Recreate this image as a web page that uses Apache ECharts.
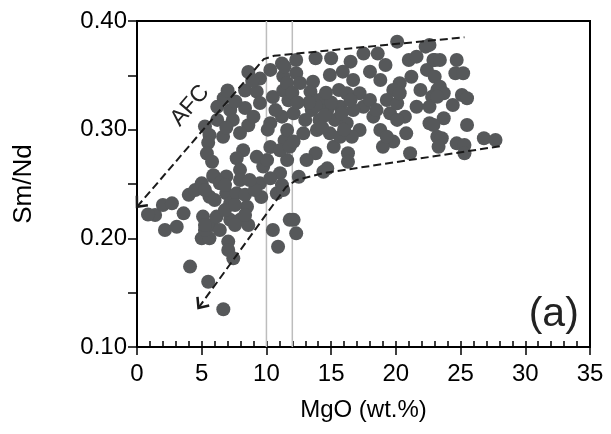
<!DOCTYPE html>
<html><head><meta charset="utf-8">
<script src="https://cdn.jsdelivr.net/npm/echarts@6/dist/echarts.min.js"></script>
<style>html,body{margin:0;padding:0;background:#fff}#c{width:611px;height:434px}</style>
</head><body><div id="c"></div>
<script>
// ---- data ----
const xTicks = [0, 5, 10, 15, 20, 25, 30, 35];
const yTicks = [0.10, 0.20, 0.30, 0.40];
const xLabel = 'MgO (wt.%)';
const yLabel = 'Sm/Nd';
const samples = [
  // x 5-12, upper
  [8.6,0.353],[9.5,0.347],[11.2,0.361],[11.3,0.349],[8.35,0.336],[9.25,0.335],[10.5,0.330],[11.3,0.336],
  [6.7,0.329],[6.2,0.321],[7.2,0.318],[8.35,0.320],[9.5,0.3245],[8.6,0.304],[7.4,0.309],[6.2,0.309],
  [5.25,0.303],[5.6,0.295],[5.5,0.288],[6.65,0.2935],[7.96,0.297],[10.3,0.306],[11.2,0.312],[11.4,0.290],
  [10.3,0.284],[8.2,0.281],[7.7,0.2737],[5.4,0.278],[5.8,0.2705],[9.25,0.275],[9.75,0.266],[7.96,0.263],
  [5.9,0.258],[6.9,0.257],[11.05,0.260],[11.6,0.272],[8.9,0.345],
  [10.3,0.355],[10.7,0.318],[11.7,0.327],[10.1,0.30],[11.05,0.281],[10.05,0.272],[11.2,0.249],
  [7.0,0.336],[7.6,0.326],[9.0,0.312],[6.9,0.302],
  // x 0-12, lower
  [1.4,0.2215],[2.0,0.2307],[2.7,0.2322],[2.16,0.2077],[3.07,0.2107],[3.6,0.223],[4.0,0.240],[4.5,0.2445],
  [5.0,0.2506],[5.9,0.2567],[5.6,0.2383],[5.1,0.220],[5.0,0.200],[5.6,0.200],[5.25,0.2077],[5.8,0.2123],
  [6.15,0.220],[6.9,0.2414],[7.2,0.2322],[7.2,0.217],[7.96,0.2537],[7.7,0.2414],[8.5,0.229],[7.96,0.217],
  [8.6,0.2123],[7.05,0.197],[7.05,0.1893],[7.44,0.1816],[4.1,0.174],[5.5,0.160],[6.67,0.1347],[9.5,0.2506],
  [10.3,0.2552],[10.8,0.2414],[10.5,0.2077],[10.9,0.1923],[11.8,0.217],[9.6,0.238],[6.4,0.2506],
  [5.25,0.2445],[6.0,0.2353],[6.8,0.226],[7.57,0.2307],[8.35,0.240],[9.1,0.2445],[8.7,0.2537],[6.8,0.249],
  [5.25,0.2123],[7.57,0.2123],[6.4,0.2077],[8.35,0.2215],[0.85,0.222],
  [12.1,0.217],[12.3,0.2046],[12.5,0.2567],[14.4,0.2613],[11.3,0.2445],
  // x 11-24
  [20.1,0.381],[22.3,0.3764],[12.3,0.3641],[13.8,0.3657],[15.0,0.3657],[16.5,0.3626],[17.5,0.370],[18.6,0.370],
  [19.2,0.3595],[18.0,0.3534],[18.8,0.3457],[21.0,0.3641],[21.6,0.3672],[22.9,0.3641],[21.2,0.3487],[21.9,0.3365],
  [20.3,0.3427],[19.8,0.3365],[22.8,0.3303],[21.6,0.3211],[20.7,0.312],[22.6,0.3059],[23.2,0.2935],[21.1,0.2783],
  [20.8,0.2966],[19.55,0.315],[19.8,0.289],[19.0,0.2843],[18.8,0.2997],[18.26,0.312],[17.2,0.3335],[17.5,0.3211],
  [16.7,0.318],[17.2,0.2997],[16.3,0.2783],[16.3,0.2705],[15.2,0.2843],[14.7,0.2644],[13.8,0.2783],[13.1,0.272],
  [11.8,0.2843],[11.6,0.2997],[12.1,0.315],[11.6,0.3427],[12.3,0.352],[11.4,0.358],[13.6,0.3441],
  [13.4,0.335],[14.9,0.3503],[15.9,0.3534],[15.6,0.3365],[16.2,0.3335],[14.1,0.3273],[13.5,0.318],[14.7,0.318],
  [15.7,0.321],[14.1,0.309],[15.3,0.309],[16.2,0.306],[13.0,0.309],[12.85,0.2966],[13.9,0.2997],[14.9,0.2966],
  [15.7,0.2935],[12.1,0.289],[16.6,0.2935],[18.0,0.3273],[18.5,0.318],[19.3,0.3273],[20.1,0.3242],[20.3,0.3335],
  [19.3,0.2935],[20.1,0.309],[22.4,0.355],[23.2,0.3365],[22.6,0.3211],[16.7,0.3457],
  [13.8,0.322],[14.5,0.313],[15.0,0.325],[15.8,0.315],[14.3,0.302],[16.0,0.300],[13.3,0.325],[14.6,0.334],
  [16.5,0.327],[12.0,0.334],[12.6,0.343],[12.4,0.325],
  // x 22-28
  [22.6,0.378],[23.0,0.3641],[23.4,0.3641],[24.7,0.3641],[24.6,0.3519],[25.2,0.3519],[23.0,0.3487],[23.4,0.3395],
  [23.7,0.3335],[23.2,0.3303],[25.1,0.3319],[25.5,0.3289],[24.4,0.3227],[23.7,0.3105],[22.9,0.3043],[25.5,0.3043],
  [23.55,0.2921],[23.3,0.2843],[24.7,0.2874],[25.3,0.2859],[25.3,0.2783],[26.8,0.2921],[27.7,0.2905]
];
// AFC trend envelope (arrow at first point)
const afcUpper = [[0,0.229],[9.8,0.365],[10.6,0.368],[25.3,0.385]];
const afcLower = [[4.75,0.136],[11.5,0.247],[12.3,0.2535],[14.4,0.26],[28.2,0.285]];
const refLines = [10, 12];
const annotations = [
  {text:'AFC', x:4.1, y:0.322, size:23, rot:49},
  {text:'(a)', x:32.2, y:0.1295, size:41, rot:0}
];

const FONT = "'Liberation Sans', Arial, sans-serif";
const X_MIN = xTicks[0], X_MAX = xTicks[xTicks.length-1];
const Y_MIN = yTicks[0], Y_MAX = yTicks[yTicks.length-1];
const envelopes = [afcUpper, afcLower];

const chart = echarts.init(document.getElementById('c'), null, {renderer:'canvas'});
chart.setOption({
  animation:false,
  backgroundColor:'#fff',
  grid:{left:137, right:21, top:21, bottom:87, show:true, borderColor:'#000', borderWidth:2, backgroundColor:'transparent'},
  xAxis:[{
    type:'value', min:X_MIN, max:X_MAX, interval:5,
    axisLine:{lineStyle:{color:'#000', width:2}},
    axisTick:{length:8, lineStyle:{color:'#000', width:1.5}},
    axisLabel:{fontSize:24, color:'#000', margin:15, fontFamily:FONT},
    splitLine:{show:false},
    name:xLabel, nameLocation:'middle', nameGap:51,
    nameTextStyle:{fontSize:24, color:'#000', fontFamily:FONT}
  },{
    type:'value', min:X_MIN, max:X_MAX, interval:1, position:'bottom',
    axisLine:{show:false},
    axisTick:{inside:true, length:6, lineStyle:{color:'#000', width:1.5}},
    axisLabel:{show:false}, splitLine:{show:false}
  }],
  yAxis:{
    type:'value', min:Y_MIN, max:Y_MAX, interval:0.1,
    axisLine:{lineStyle:{color:'#000', width:2}},
    axisTick:{length:9, lineStyle:{color:'#000', width:1.5}},
    minorTick:{show:true, splitNumber:2, length:9, lineStyle:{color:'#000', width:1.5}},
    axisLabel:{fontSize:24, color:'#000', margin:10, fontFamily:FONT, formatter:v=>v.toFixed(2)},
    splitLine:{show:false},
    name:yLabel, nameLocation:'middle', nameGap:100, nameRotate:90,
    nameTextStyle:{fontSize:26, color:'#000', fontFamily:FONT}
  },
  series:[
    {
      type:'custom', z:1, silent:true,
      data:refLines.map(x=>[x, Y_MIN]),
      renderItem:(params, api)=>{
        const x = refLines[params.dataIndex];
        const p0 = api.coord([x, Y_MIN]), p1 = api.coord([x, Y_MAX]);
        return {type:'line', shape:{x1:p0[0], y1:p0[1], x2:p1[0], y2:p1[1]},
          style:{stroke:'#bdbdbd', lineWidth:1.5}};
      }
    },
    {
      type:'scatter', z:2, silent:true,
      data:samples, symbol:'circle', symbolSize:14,
      itemStyle:{color:'#56585a', opacity:1}
    },
    {
      type:'custom', z:3, silent:true,
      data:envelopes.map(l=>l[0]),
      renderItem:(params, api)=>{
        const pts = envelopes[params.dataIndex].map(p=>api.coord(p));
        const [tx, ty] = pts[0], [bx, by] = pts[1];
        const ang = Math.atan2(by-ty, bx-tx), L = 11, a = 0.72;
        const leg1 = [tx + L*Math.cos(ang+a), ty + L*Math.sin(ang+a)];
        const leg2 = [tx + L*Math.cos(ang-a), ty + L*Math.sin(ang-a)];
        return {type:'group', children:[
          {type:'polyline', shape:{points:pts}, style:{stroke:'#1a1a1a', lineWidth:2, lineDash:[8,4], fill:null}},
          {type:'polyline', shape:{points:[leg1,[tx,ty],leg2]}, style:{stroke:'#1a1a1a', lineWidth:2.5, fill:null}}
        ]};
      }
    },
    {
      type:'custom', z:4, silent:true,
      data:annotations.map(a=>[a.x, a.y]),
      renderItem:(params, api)=>{
        const a = annotations[params.dataIndex];
        const p = api.coord([a.x, a.y]);
        return {type:'text', x:p[0], y:p[1], rotation:a.rot*Math.PI/180,
          style:{text:a.text, fontSize:a.size, fontFamily:FONT, fill:'#222', align:'center', verticalAlign:'middle'}};
      }
    }
  ]
});
</script>
</body></html>
